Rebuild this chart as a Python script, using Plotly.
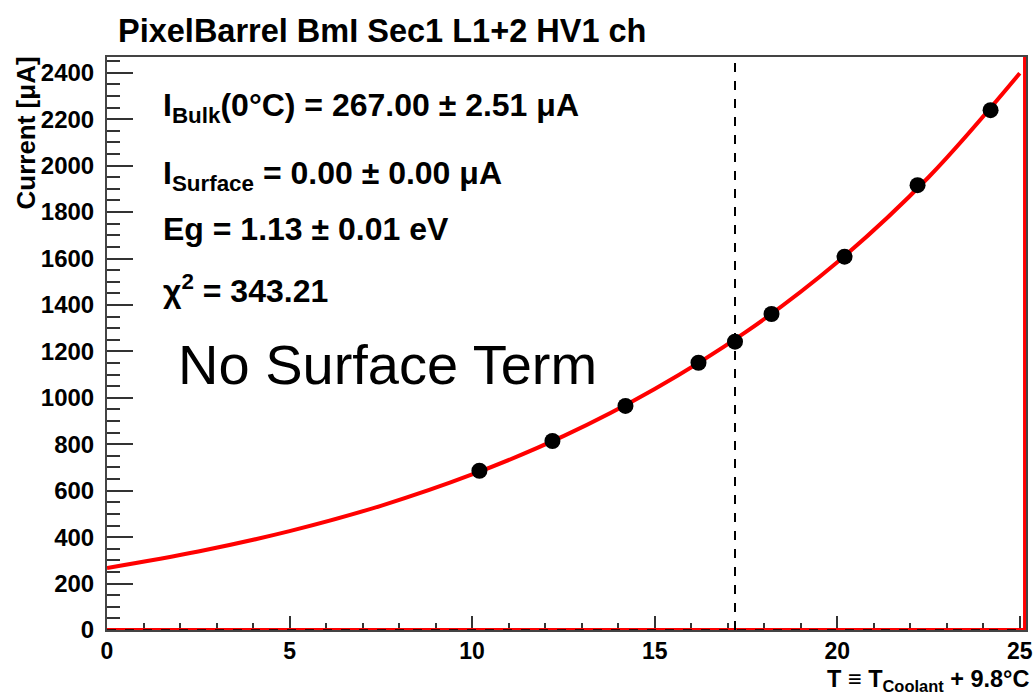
import plotly.graph_objects as go

# ---- data ----
temp_points = [10.2, 12.2, 14.2, 16.2, 17.2, 18.2, 20.2, 22.2, 24.2]
current_points = [686, 814, 965, 1151, 1242, 1361, 1608, 1916, 2239]

fit_temp = [0, 2.5, 5, 7.5, 10, 12.5, 15, 17.5, 20, 22.5, 25]
fit_current = [267, 338, 426, 535, 670, 835, 1038, 1284, 1584, 1950, 2398]

x_ticks = [0, 5, 10, 15, 20, 25]
y_ticks = [0, 200, 400, 600, 800, 1000, 1200, 1400, 1600, 1800, 2000, 2200, 2400]
marker_temp = 17.2
x_max = 25.17
y_max = 2468

title_text = "PixelBarrel BmI Sec1 L1+2 HV1 ch"
info_lines = [
    "I<sub>Bulk</sub>(0°C) = 267.00 ± 2.51 μA",
    "I<sub>Surface</sub> = 0.00 ± 0.00 μA",
    "Eg = 1.13 ± 0.01 eV",
    "χ<sup>2</sup> = 343.21",
]
info_y_px = [107, 175, 229, 289]

FONT = "Liberation Sans, Arial, sans-serif"
W, H = 1034, 695
L, R, T, B = 107, 8, 57, 65
PW = W - L - R
PH = H - T - B


def px_x(px):
    return (px - L) / PW


def px_y(py):
    return (H - B - py) / PH


fig = go.Figure()
fig.add_trace(go.Scatter(x=fit_temp, y=fit_current, mode="lines",
                         line=dict(color="#ff0000", width=4, shape="spline"),
                         showlegend=False, hoverinfo="skip"))
fig.add_trace(go.Scatter(x=temp_points, y=current_points, mode="markers",
                         marker=dict(color="black", size=16, symbol="circle"),
                         showlegend=False))

# fit-range frame lines (red) and dashed lines
fig.add_shape(type="line", x0=0, x1=x_max, y0=0, y1=0, xref="x", yref="y",
              line=dict(color="#ff0000", width=4), layer="above")
fig.add_shape(type="line", x0=0, x1=x_max, y0=0, y1=0, xref="x", yref="y",
              line=dict(color="black", width=1.5, dash="dash"), layer="above")
fig.add_shape(type="line", x0=25.13, x1=25.13, y0=0, y1=y_max, xref="x", yref="y",
              line=dict(color="#ff0000", width=3), layer="above")
fig.add_shape(type="line", x0=marker_temp, x1=marker_temp, y0=0, y1=y_max,
              xref="x", yref="y",
              line=dict(color="black", width=2, dash="dash"), layer="above")

annotations = []
annotations.append(dict(text=title_text, xref="paper", yref="paper",
                        x=px_x(116), y=px_y(31), xanchor="left", yanchor="middle",
                        showarrow=False,
                        font=dict(family=FONT, size=32.5, color="black", weight="bold")))
for line, py in zip(info_lines, info_y_px):
    annotations.append(dict(text=line, xref="paper", yref="paper",
                            x=px_x(161), y=px_y(py), xanchor="left", yanchor="middle",
                            showarrow=False,
                            font=dict(family=FONT, size=32, color="black", weight="bold")))
annotations.append(dict(text="No Surface Term", xref="paper", yref="paper",
                        x=px_x(176), y=px_y(364), xanchor="left", yanchor="middle",
                        showarrow=False,
                        font=dict(family=FONT, size=56, color="black")))
annotations.append(dict(text="Current [μA]", xref="paper", yref="paper",
                        x=px_x(25), y=px_y(55), xanchor="center", yanchor="top",
                        textangle=-90, showarrow=False,
                        font=dict(family=FONT, size=26, color="black", weight="bold")))
annotations.append(dict(text="T ≡ T<sub>Coolant</sub> + 9.8°C", xref="paper", yref="paper",
                        x=px_x(1032), y=px_y(680), xanchor="right", yanchor="middle",
                        showarrow=False,
                        font=dict(family=FONT, size=23.5, color="black", weight="bold")))

fig.update_layout(
    width=W, height=H,
    margin=dict(l=L, r=R, t=T, b=B, pad=0, autoexpand=False),
    paper_bgcolor="white", plot_bgcolor="white",
    showlegend=False,
    annotations=annotations,
    xaxis=dict(range=[0, x_max], tickvals=x_ticks, ticks="inside", ticklen=14,
               tickwidth=1.5, tickcolor="#333", automargin=False,
               minor=dict(dtick=1, ticklen=7, ticks="inside", tickcolor="#333", tickwidth=1.5),
               showline=True, linecolor="#444", linewidth=1.5, mirror=True,
               showgrid=False, zeroline=False,
               ticklabelstandoff=0,
               tickfont=dict(family=FONT, size=23, color="black", weight="bold")),
    yaxis=dict(range=[0, y_max], tickvals=y_ticks, ticks="inside", ticklen=26,
               tickwidth=1.5, tickcolor="#333", automargin=False,
               minor=dict(dtick=50, ticklen=13, ticks="inside", tickcolor="#333", tickwidth=1.5),
               showline=True, linecolor="#444", linewidth=2, mirror=True,
               showgrid=False, zeroline=False,
               ticklabelstandoff=6,
               tickfont=dict(family=FONT, size=24, color="black", weight="bold")),
)

fig.write_html("out.html")
